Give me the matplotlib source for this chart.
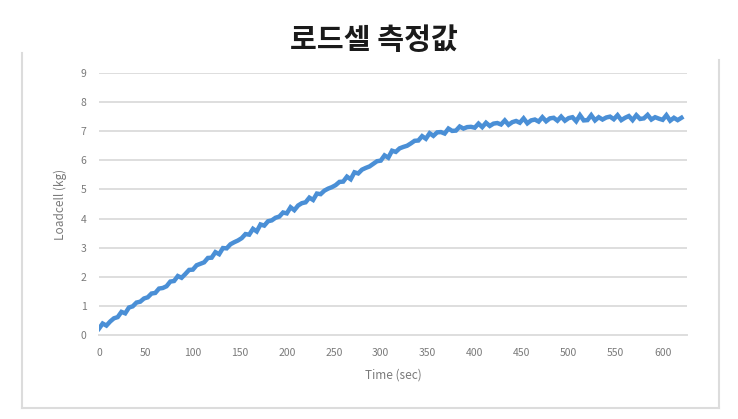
import numpy as np
import matplotlib
matplotlib.use("Agg")
from matplotlib import pyplot as plt
from matplotlib.lines import Line2D

plt.rcParams['font.family'] = ['Noto Sans CJK KR', 'DejaVu Sans']

# load cell readings, one every 4 seconds
time_sec = np.arange(0, 624, 4)
load_kg = [
    0.22, 0.40, 0.33, 0.47, 0.58,   # 0
    0.62, 0.80, 0.75, 0.95, 0.99,   # 20
    1.12, 1.15, 1.26, 1.30, 1.43,   # 40
    1.45, 1.60, 1.62, 1.68, 1.84,   # 60
    1.86, 2.03, 1.97, 2.10, 2.24,   # 80
    2.25, 2.40, 2.45, 2.50, 2.65,   # 100
    2.66, 2.85, 2.78, 2.99, 2.98,   # 120
    3.12, 3.19, 3.25, 3.33, 3.47,   # 140
    3.45, 3.65, 3.56, 3.80, 3.76,   # 160
    3.91, 3.94, 4.03, 4.07, 4.21,   # 180
    4.18, 4.39, 4.29, 4.45, 4.53,   # 200
    4.56, 4.72, 4.64, 4.86, 4.84,   # 220
    4.96, 5.03, 5.08, 5.15, 5.26,   # 240
    5.27, 5.44, 5.35, 5.59, 5.55,   # 260
    5.68, 5.74, 5.79, 5.88, 5.97,   # 280
    5.99, 6.17, 6.09, 6.33, 6.29,   # 300
    6.41, 6.46, 6.50, 6.58, 6.67,   # 320
    6.68, 6.83, 6.74, 6.93, 6.84,   # 340
    6.96, 6.97, 6.92, 7.09, 7.01,   # 360
    7.02, 7.16, 7.09, 7.14, 7.15,   # 380
    7.12, 7.26, 7.14, 7.29, 7.18,   # 400
    7.26, 7.28, 7.23, 7.37, 7.22,   # 420
    7.31, 7.35, 7.29, 7.44, 7.27,   # 440
    7.37, 7.40, 7.33, 7.48, 7.34,   # 460
    7.44, 7.46, 7.36, 7.50, 7.36,   # 480
    7.45, 7.48, 7.34, 7.55, 7.37,   # 500
    7.38, 7.55, 7.37, 7.48, 7.40,   # 520
    7.47, 7.50, 7.41, 7.55, 7.38,   # 540
    7.46, 7.52, 7.38, 7.55, 7.42,   # 560
    7.44, 7.56, 7.40, 7.48, 7.43,   # 580
    7.39, 7.55, 7.36, 7.46, 7.38,   # 600
    7.46,                           # 620
]

x_ticks = list(range(0, 601, 50))
y_ticks = list(range(0, 10))

fig = plt.figure(figsize=(7.38, 4.19), dpi=100)
ax = fig.add_axes([0.134, 0.200, 0.797, 0.626])

ax.plot(time_sec, load_kg, color='#4a8fd6', lw=3.2, solid_joinstyle='miter')

ax.set_xlim(0, 626)
ax.set_ylim(0, 9)
ax.set_xticks(x_ticks)
ax.set_yticks(y_ticks)
ax.grid(axis='y', color='#dedede', lw=1.4)
ax.set_axisbelow(True)
for s in ['top', 'right', 'left']:
    ax.spines[s].set_visible(False)
ax.spines['bottom'].set_color('#dedede')
ax.spines['bottom'].set_linewidth(1.4)
ax.tick_params(length=0, labelsize=7.5, labelcolor='#7a7a7a', pad=9)

ax.set_xlabel('Time (sec)', fontsize=8.5, color='#7a7a7a', labelpad=8)
ax.set_ylabel('Loadcell (kg)', fontsize=8.5, color='#7a7a7a', labelpad=10)

fig.text(0.507, 0.905, '로드셀 측정값', ha='center', va='center',
         fontsize=21, fontweight='heavy', color='#1a1a1a')

# chart-area frame (top edge cut off in the reference)
frame = '#dcdcdc'
fig.add_artist(Line2D([22/738, 22/738], [1 - 53/419, 1 - 408/419], color=frame, lw=1.5))
fig.add_artist(Line2D([22/738, 719/738], [1 - 408/419, 1 - 408/419], color=frame, lw=1.5))
fig.add_artist(Line2D([719/738, 719/738], [1 - 60/419, 1 - 408/419], color=frame, lw=1.5))

fig.savefig('out.png', dpi=100)
